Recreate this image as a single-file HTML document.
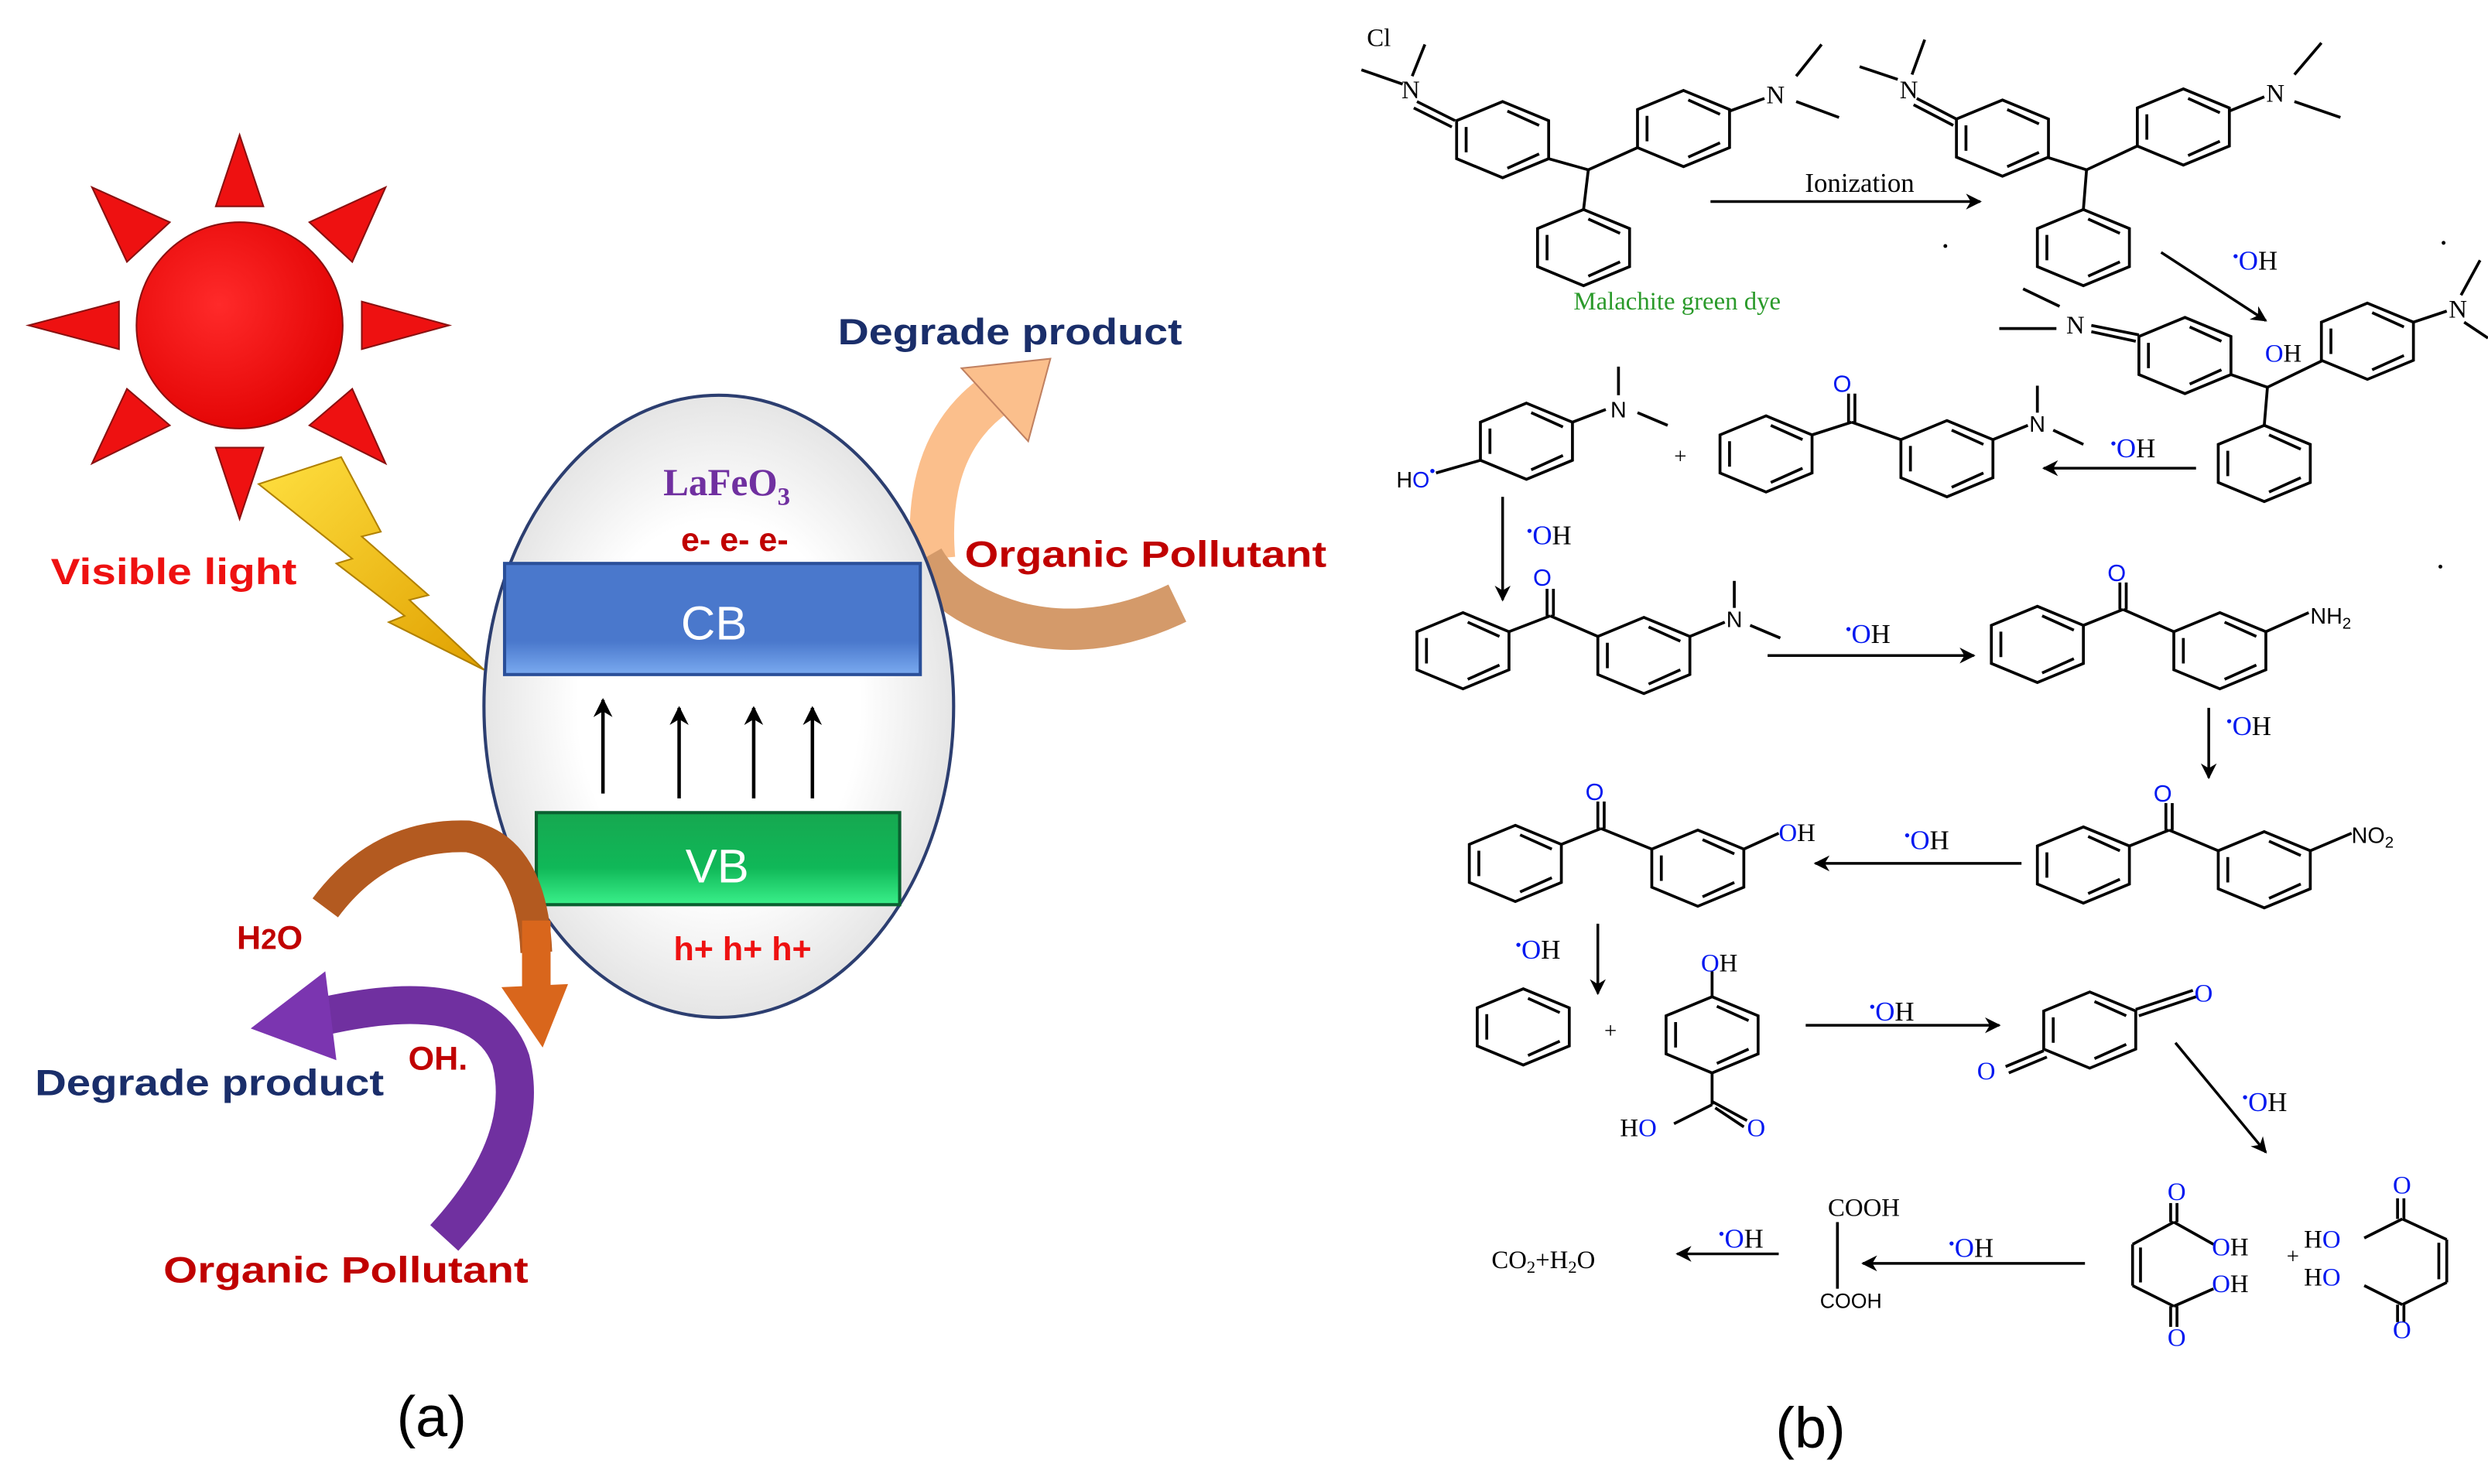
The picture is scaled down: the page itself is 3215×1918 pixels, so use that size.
<!DOCTYPE html>
<html><head><meta charset="utf-8"><style>
html,body{margin:0;padding:0;background:#fff}
svg{display:block}
.s{font-family:"Liberation Serif",serif}
.a{font-family:"Liberation Sans",sans-serif}
.b{fill:#0018f0}
</style></head><body>
<svg width="3215" height="1918" viewBox="0 0 1568 935" preserveAspectRatio="none" xmlns="http://www.w3.org/2000/svg">
<defs>
<g id="r" fill="none" stroke="#000" stroke-width="1.8">
<path d="M0,-24 L29,-12 L29,12 L0,24 L-29,12 L-29,-12Z"/>
<path d="M3,-18 L23,-9 M23,9 L3,18 M-23,8 L-23,-8"/>
</g>
<marker id="ah" viewBox="0 0 10 10" refX="9" refY="5" markerWidth="10" markerHeight="10" markerUnits="userSpaceOnUse" orient="auto"><path d="M0,0 L10,5 L0,10 L3,5Z" fill="#000"/></marker>
<marker id="ah2" viewBox="0 0 10 10" refX="9" refY="5" markerWidth="12" markerHeight="12" markerUnits="userSpaceOnUse" orient="auto"><path d="M0,0 L10,5 L0,10 L3,5Z" fill="#000"/></marker>
<radialGradient id="sun" cx="0.4" cy="0.4" r="0.7"><stop offset="0" stop-color="#ff2a2a"/><stop offset="1" stop-color="#e00000"/></radialGradient>
<radialGradient id="ell" cx="0.5" cy="0.5" r="0.6"><stop offset="0.5" stop-color="#fff"/><stop offset="1" stop-color="#d8d8d8"/></radialGradient>
<linearGradient id="cb" x1="0" y1="0" x2="0" y2="1"><stop offset="0" stop-color="#4a78cc"/><stop offset="0.7" stop-color="#4a78cc"/><stop offset="1" stop-color="#7aaaf0"/></linearGradient>
<linearGradient id="vb" x1="0" y1="0" x2="0" y2="1"><stop offset="0" stop-color="#16a850"/><stop offset="0.6" stop-color="#10b858"/><stop offset="1" stop-color="#3af08a"/></linearGradient>
<linearGradient id="yl" x1="0" y1="0" x2="1" y2="1"><stop offset="0" stop-color="#ffe040"/><stop offset="1" stop-color="#e0a000"/></linearGradient>
</defs>

<g stroke="#8a1010" stroke-width="1" fill="#ee1111">
<circle cx="151" cy="205" r="65" fill="url(#sun)"/>
<polygon points="136,130 166,130 151,85"/>
<polygon points="136,282 166,282 151,327"/>
<polygon points="75,190 75,220 18,205"/>
<polygon points="228,190 228,220 283,205"/>
<polygon points="195,140 222,165 243,118"/>
<polygon points="107,140 80,165 58,118"/>
<polygon points="195,268 222,245 243,292"/>
<polygon points="107,268 80,245 58,292"/>
</g>
<polygon points="163,305 215,288 240,335 228,338 270,375 258,378 305,422 245,392 255,388 212,355 222,352" fill="url(#yl)" stroke="#b08000" stroke-width="1"/>
<text x="32" y="368" class="a" font-size="23" font-weight="bold" fill="#ee1111" textLength="155" lengthAdjust="spacingAndGlyphs">Visible light</text>

<path d="M588,352 Q582,280 628,248" fill="none" stroke="#fbbf8c" stroke-width="28"/>
<polygon points="606,232 662,226 648,278" fill="#fbbf8c" stroke="#c08060" stroke-width="1"/>
<path d="M742,380 Q690,405 640,392 Q598,380 582,352" fill="none" stroke="#d49a6a" stroke-width="26"/>

<ellipse cx="453" cy="445" rx="148" ry="196" fill="url(#ell)" stroke="#2c3e70" stroke-width="2"/>
<text x="458" y="312" class="s" font-size="24" font-weight="bold" fill="#7030a0" text-anchor="middle">LaFeO<tspan font-size="16" dy="6">3</tspan></text>
<text x="463" y="347" class="a" font-size="21" font-weight="bold" fill="#c00000" text-anchor="middle">e- e- e-</text>
<rect x="318" y="355" width="262" height="70" fill="url(#cb)" stroke="#2a4f99" stroke-width="2"/>
<text x="450" y="403" class="a" font-size="30" fill="#fff" text-anchor="middle">CB</text>
<g stroke="#000" stroke-width="2.2" marker-end="url(#ah2)">
<line x1="380" y1="500" x2="380" y2="441"/><line x1="428" y1="503" x2="428" y2="446"/>
<line x1="475" y1="503" x2="475" y2="446"/><line x1="512" y1="503" x2="512" y2="446"/>
</g>
<rect x="338" y="512" width="229" height="58" fill="url(#vb)" stroke="#0a6030" stroke-width="2"/>
<text x="452" y="556" class="a" font-size="30" fill="#fff" text-anchor="middle">VB</text>
<text x="468" y="605" class="a" font-size="21" font-weight="bold" fill="#ee1111" text-anchor="middle">h+ h+ h+</text>

<text x="528" y="217" class="a" font-size="23" font-weight="bold" fill="#1a2e6a" textLength="217" lengthAdjust="spacingAndGlyphs">Degrade product</text>
<text x="608" y="357" class="a" font-size="23" font-weight="bold" fill="#c00000" textLength="228" lengthAdjust="spacingAndGlyphs">Organic Pollutant</text>

<path d="M205,572 Q240,525 295,527 Q335,535 338,600" fill="none" stroke="#b35a20" stroke-width="20"/>
<polygon points="316,622 358,620 342,660" fill="#d9661c"/>
<path d="M338,580 L338,625" stroke="#d9661c" stroke-width="18"/>
<path d="M280,780 Q335,720 322,668 Q305,618 205,640" fill="none" stroke="#7030a0" stroke-width="24"/>
<polygon points="158,648 205,612 212,668" fill="#7b35b0"/>
<text x="170" y="598" class="a" font-size="21" font-weight="bold" fill="#c00000" text-anchor="middle">H<tspan font-size="18">2</tspan>O</text>
<text x="276" y="674" class="a" font-size="21" font-weight="bold" fill="#c00000" text-anchor="middle">OH.</text>
<text x="22" y="690" class="a" font-size="23" font-weight="bold" fill="#1a2e6a" textLength="220" lengthAdjust="spacingAndGlyphs">Degrade product</text>
<text x="103" y="808" class="a" font-size="23" font-weight="bold" fill="#c00000" textLength="230" lengthAdjust="spacingAndGlyphs">Organic Pollutant</text>
<text x="272" y="905" class="a" font-size="36" fill="#000" text-anchor="middle">(a)</text>

<g fill="none" stroke="#000" stroke-width="1.8">
<line x1="858" y1="44" x2="884" y2="53"/><line x1="898" y1="28" x2="890" y2="48"/>
<line x1="893" y1="64" x2="917" y2="76"/><line x1="891" y1="68" x2="915" y2="80"/>
<line x1="976" y1="100" x2="1001" y2="107"/><line x1="1001" y1="107" x2="1032" y2="93"/>
<line x1="1001" y1="107" x2="998" y2="132"/>
<line x1="1090" y1="70" x2="1112" y2="62"/>
<line x1="1132" y1="48" x2="1148" y2="28"/><line x1="1132" y1="64" x2="1159" y2="74"/>
<line x1="1172" y1="42" x2="1196" y2="50"/><line x1="1213" y1="25" x2="1205" y2="47"/>
<line x1="1208" y1="62" x2="1233" y2="75"/><line x1="1206" y1="66" x2="1231" y2="79"/>
<line x1="1290" y1="99" x2="1315" y2="107"/><line x1="1315" y1="107" x2="1347" y2="92"/>
<line x1="1315" y1="107" x2="1313" y2="132"/>
<line x1="1405" y1="70" x2="1427" y2="61"/>
<line x1="1446" y1="47" x2="1463" y2="27"/><line x1="1446" y1="64" x2="1475" y2="74"/>
<line x1="1275" y1="182" x2="1298" y2="193"/><line x1="1260" y1="207" x2="1296" y2="207"/>
<line x1="1318" y1="205" x2="1348" y2="211"/><line x1="1318" y1="209" x2="1346" y2="215"/>
<line x1="1406" y1="236" x2="1429" y2="244"/><line x1="1429" y1="244" x2="1464" y2="227"/>
<line x1="1429" y1="244" x2="1427" y2="268"/>
<line x1="1521" y1="203" x2="1542" y2="196"/>
<line x1="1563" y1="164" x2="1551" y2="186"/><line x1="1553" y1="203" x2="1568" y2="213"/>
<line x1="1020" y1="231" x2="1020" y2="249"/><line x1="1032" y1="260" x2="1051" y2="268"/><line x1="991" y1="266" x2="1012" y2="258"/>
<line x1="905" y1="298" x2="933" y2="290"/>
<line x1="1142" y1="274" x2="1167" y2="266"/><line x1="1167" y1="266" x2="1198" y2="277"/>
<line x1="1165" y1="266" x2="1165" y2="248"/><line x1="1169" y1="266" x2="1169" y2="248"/>
<line x1="1256" y1="277" x2="1278" y2="268"/>
<line x1="1284" y1="243" x2="1284" y2="260"/><line x1="1294" y1="271" x2="1313" y2="280"/>
<line x1="951" y1="398" x2="977" y2="388"/><line x1="977" y1="388" x2="1007" y2="401"/>
<line x1="975" y1="388" x2="975" y2="371"/><line x1="979" y1="388" x2="979" y2="371"/>
<line x1="1065" y1="401" x2="1087" y2="392"/>
<line x1="1093" y1="366" x2="1093" y2="383"/><line x1="1103" y1="394" x2="1122" y2="402"/>
<line x1="1313" y1="394" x2="1338" y2="384"/><line x1="1338" y1="384" x2="1370" y2="398"/>
<line x1="1336" y1="384" x2="1336" y2="367"/><line x1="1340" y1="384" x2="1340" y2="367"/>
<line x1="1428" y1="398" x2="1455" y2="386"/>
<line x1="984" y1="532" x2="1009" y2="522"/><line x1="1009" y1="522" x2="1041" y2="535"/>
<line x1="1007" y1="522" x2="1007" y2="505"/><line x1="1011" y1="522" x2="1011" y2="505"/>
<line x1="1099" y1="535" x2="1121" y2="525"/>
<line x1="1342" y1="533" x2="1367" y2="523"/><line x1="1367" y1="523" x2="1398" y2="536"/>
<line x1="1365" y1="523" x2="1365" y2="506"/><line x1="1369" y1="523" x2="1369" y2="506"/>
<line x1="1456" y1="536" x2="1482" y2="525"/>
<line x1="1079" y1="628" x2="1079" y2="612"/>
<line x1="1079" y1="676" x2="1079" y2="696"/><line x1="1079" y1="696" x2="1055" y2="708"/>
<line x1="1079" y1="694" x2="1101" y2="706"/><line x1="1081" y1="698" x2="1099" y2="710"/>
<line x1="1346" y1="636" x2="1382" y2="624"/><line x1="1348" y1="640" x2="1384" y2="628"/>
<line x1="1288" y1="662" x2="1264" y2="672"/><line x1="1290" y1="666" x2="1266" y2="676"/>
<line x1="1344" y1="784" x2="1344" y2="810"/><line x1="1349" y1="786" x2="1349" y2="808"/>
<line x1="1344" y1="784" x2="1370" y2="770"/><line x1="1370" y1="770" x2="1395" y2="784"/>
<line x1="1368" y1="770" x2="1368" y2="758"/><line x1="1372" y1="770" x2="1372" y2="758"/>
<line x1="1344" y1="810" x2="1370" y2="823"/><line x1="1370" y1="823" x2="1395" y2="812"/>
<line x1="1368" y1="823" x2="1368" y2="836"/><line x1="1372" y1="823" x2="1372" y2="836"/>
<line x1="1542" y1="781" x2="1542" y2="808"/><line x1="1537" y1="783" x2="1537" y2="806"/>
<line x1="1542" y1="781" x2="1514" y2="768"/><line x1="1514" y1="768" x2="1490" y2="780"/>
<line x1="1511" y1="768" x2="1511" y2="755"/><line x1="1515" y1="768" x2="1515" y2="755"/>
<line x1="1542" y1="808" x2="1514" y2="822"/><line x1="1514" y1="822" x2="1490" y2="810"/>
<line x1="1511" y1="822" x2="1511" y2="833"/><line x1="1515" y1="822" x2="1515" y2="833"/>
<line x1="1158" y1="770" x2="1158" y2="812"/>
</g>
<use href="#r" x="947" y="88"/><use href="#r" x="1061" y="81"/><use href="#r" x="998" y="156"/>
<use href="#r" x="1262" y="87"/><use href="#r" x="1376" y="80"/><use href="#r" x="1313" y="156"/>
<use href="#r" x="1377" y="224"/><use href="#r" x="1492" y="215"/><use href="#r" x="1427" y="292"/>
<use href="#r" x="962" y="278"/><use href="#r" x="1113" y="286"/><use href="#r" x="1227" y="289"/>
<use href="#r" x="922" y="410"/><use href="#r" x="1036" y="413"/><use href="#r" x="1284" y="406"/><use href="#r" x="1399" y="410"/>
<use href="#r" x="955" y="544"/><use href="#r" x="1070" y="547"/><use href="#r" x="1313" y="545"/><use href="#r" x="1427" y="548"/>
<use href="#r" x="960" y="647"/><use href="#r" x="1079" y="652"/><use href="#r" x="1317" y="649"/>

<g stroke="#000" stroke-width="1.7" marker-end="url(#ah)">
<line x1="1078" y1="127" x2="1248" y2="127"/>
<line x1="1362" y1="159" x2="1428" y2="202"/>
<line x1="1384" y1="295" x2="1288" y2="295"/>
<line x1="947" y1="313" x2="947" y2="378"/>
<line x1="1114" y1="413" x2="1244" y2="413"/>
<line x1="1392" y1="446" x2="1392" y2="490"/>
<line x1="1274" y1="544" x2="1144" y2="544"/>
<line x1="1007" y1="582" x2="1007" y2="626"/>
<line x1="1138" y1="646" x2="1260" y2="646"/>
<line x1="1371" y1="657" x2="1428" y2="726"/>
<line x1="1314" y1="796" x2="1174" y2="796"/>
<line x1="1121" y1="790" x2="1057" y2="790"/>
</g>

<g class="s" font-size="16">
<text x="869" y="29" text-anchor="middle">Cl</text>
<text x="889" y="62" text-anchor="middle">N</text>
<text x="1119" y="65" text-anchor="middle">N</text>
<text x="1172" y="121" text-anchor="middle" font-size="17">Ionization</text>
<text x="1057" y="195" text-anchor="middle" fill="#2a9a2a" font-size="16">Malachite green dye</text>
<text x="1203" y="62" text-anchor="middle">N</text>
<text x="1434" y="64" text-anchor="middle">N</text>
<text x="1308" y="210" text-anchor="middle">N</text>
<text x="1549" y="200" text-anchor="middle">N</text>
<text x="1439" y="228" text-anchor="middle"><tspan class="b">O</tspan>H</text>
<text x="1020" y="263" text-anchor="middle" class="a" font-size="14">N</text>
<text x="880" y="307" class="a" font-size="14">H<tspan class="b">O</tspan><tspan class="b" font-size="10" dy="-7">•</tspan></text>
<text x="1059" y="292" text-anchor="middle" font-size="14">+</text>
<text x="1161" y="247" class="a b" font-size="15" text-anchor="middle">O</text>
<text x="1284" y="272" text-anchor="middle" class="a" font-size="14">N</text>
<text x="972" y="369" class="a b" font-size="15" text-anchor="middle">O</text>
<text x="1093" y="395" text-anchor="middle" class="a" font-size="14">N</text>
<text x="1334" y="366" class="a b" font-size="15" text-anchor="middle">O</text>
<text x="1456" y="393" class="a" font-size="14">NH<tspan font-size="10" dy="3">2</tspan></text>
<text x="1005" y="504" class="a b" font-size="15" text-anchor="middle">O</text>
<text x="1121" y="530"><tspan class="b">O</tspan>H</text>
<text x="1363" y="505" class="a b" font-size="15" text-anchor="middle">O</text>
<text x="1482" y="531" class="a" font-size="14">NO<tspan font-size="10" dy="3">2</tspan></text>
<text x="1072" y="612"><tspan class="b">O</tspan>H</text>
<text x="1015" y="654" text-anchor="middle" font-size="14">+</text>
<text x="1021" y="716">H<tspan class="b">O</tspan></text>
<text x="1101" y="716" class="b">O</text>
<text x="1383" y="631" class="b">O</text>
<text x="1246" y="680" class="b">O</text>
<text x="1366" y="756" class="b">O</text>
<text x="1394" y="791"><tspan class="b">O</tspan>H</text>
<text x="1394" y="814"><tspan class="b">O</tspan>H</text>
<text x="1366" y="848" class="b">O</text>
<text x="1445" y="796" text-anchor="middle" font-size="14">+</text>
<text x="1452" y="786">H<tspan class="b">O</tspan></text>
<text x="1452" y="810">H<tspan class="b">O</tspan></text>
<text x="1508" y="752" class="b">O</text>
<text x="1508" y="843" class="b">O</text>
<text x="1152" y="766">COOH</text>
<text x="1147" y="824" class="a" font-size="13">COOH</text>
<text x="940" y="799">CO<tspan font-size="11" dy="3">2</tspan><tspan dy="-3">+H</tspan><tspan font-size="11" dy="3">2</tspan><tspan dy="-3">O</tspan></text>
</g>
<g class="s" font-size="17">
<text x="1407" y="170"><tspan class="b" font-size="11" dy="-5">•</tspan><tspan class="b" dy="5">O</tspan>H</text>
<text x="1330" y="288"><tspan class="b" font-size="11" dy="-5">•</tspan><tspan class="b" dy="5">O</tspan>H</text>
<text x="962" y="343"><tspan class="b" font-size="11" dy="-5">•</tspan><tspan class="b" dy="5">O</tspan>H</text>
<text x="1163" y="405"><tspan class="b" font-size="11" dy="-5">•</tspan><tspan class="b" dy="5">O</tspan>H</text>
<text x="1403" y="463"><tspan class="b" font-size="11" dy="-5">•</tspan><tspan class="b" dy="5">O</tspan>H</text>
<text x="1200" y="535"><tspan class="b" font-size="11" dy="-5">•</tspan><tspan class="b" dy="5">O</tspan>H</text>
<text x="955" y="604"><tspan class="b" font-size="11" dy="-5">•</tspan><tspan class="b" dy="5">O</tspan>H</text>
<text x="1178" y="643"><tspan class="b" font-size="11" dy="-5">•</tspan><tspan class="b" dy="5">O</tspan>H</text>
<text x="1413" y="700"><tspan class="b" font-size="11" dy="-5">•</tspan><tspan class="b" dy="5">O</tspan>H</text>
<text x="1228" y="792"><tspan class="b" font-size="11" dy="-5">•</tspan><tspan class="b" dy="5">O</tspan>H</text>
<text x="1083" y="786"><tspan class="b" font-size="11" dy="-5">•</tspan><tspan class="b" dy="5">O</tspan>H</text>
</g>
<g fill="#000"><circle cx="1226" cy="155" r="1.2"/><circle cx="1540" cy="153" r="1.2"/><circle cx="1538" cy="357" r="1.2"/></g>
<text x="1141" y="912" class="a" font-size="36" text-anchor="middle">(b)</text>
</svg>
</body></html>
